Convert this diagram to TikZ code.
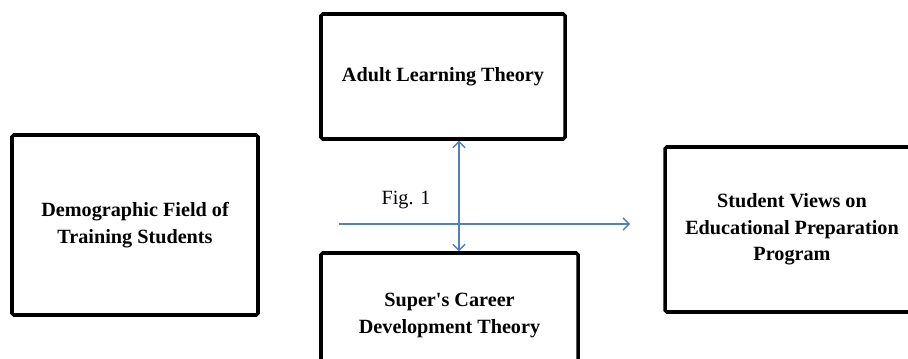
\documentclass[tikz,border=0pt]{standalone}
\usepackage{fontspec}
\setmainfont{Liberation Serif}
\usetikzlibrary{arrows.meta}

\definecolor{linkblue}{RGB}{79,129,189}

\begin{document}
\begin{tikzpicture}[
  box/.style   = {draw, line width=2pt, rounded corners=1pt, inner sep=3pt,
                  align=center, font=\fontsize{11.5}{15}\selectfont\bfseries},
  link/.style  = {draw=linkblue, line width=0.8pt,
                  -{Straight Barb[length=3.4pt,width=7pt]}},
  caption/.style = {font=\fontsize{11.5}{13}\selectfont, inner sep=1pt},
]
  \path[use as bounding box, clip] (0,0) rectangle (18.16,-7.16);

  \node[box, minimum width=4.88cm, minimum height=2.50cm] (adult) at (8.86,-1.53)
    {Adult Learning Theory};
  \node[box, minimum width=4.92cm, minimum height=3.60cm] (demo) at (2.70,-4.50)
    {Demographic Field of\\Training Students};
  \node[box, minimum width=5.14cm, minimum height=2.50cm] (super) at (8.99,-6.31)
    {Super\textquotesingle s Career\\Development Theory};
  \node[box, minimum width=5.08cm, minimum height=3.30cm] (views) at (15.84,-4.59)
    {Student Views on\\Educational Preparation\\Program};

  % the crossing of the links
  \coordinate (mid)   at (9.18,-4.26);
  \coordinate (hfrom) at (6.78,-4.48);
  \coordinate (hto)   at (12.60,-4.48);

  \draw[link] (mid) -- (mid |- adult.south);
  \draw[link] (mid) -- (mid |- super.north);
  \draw[link] (hfrom) -- (hto);

  \node[caption] (fig) at (8.12,-4.00) {Fig. 1};
\end{tikzpicture}
\end{document}
